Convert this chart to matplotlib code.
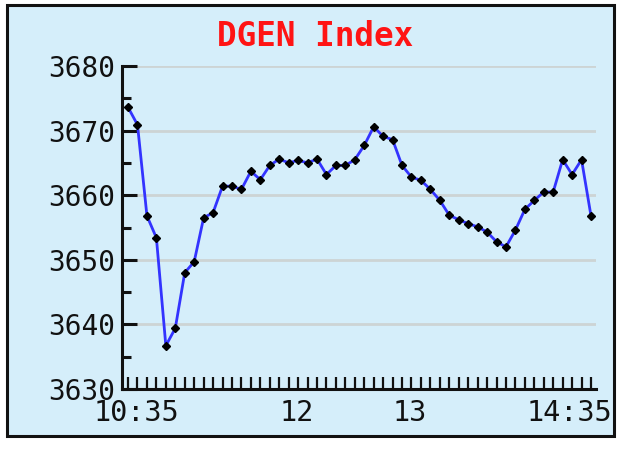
import matplotlib
matplotlib.use('Agg')
import matplotlib.pyplot as plt
from matplotlib.patches import Rectangle
from matplotlib.ticker import MultipleLocator, FixedLocator
from matplotlib.transforms import ScaledTranslation

# index values, one point every 5 minutes from 10:35
values = [3673.6, 3670.9, 3656.8, 3653.4, 3636.7, 3639.4, 3648.0, 3649.7, 3656.5, 3657.3,
          3661.4, 3661.4, 3660.9, 3663.7, 3662.4, 3664.6, 3665.6, 3665.0, 3665.4, 3665.0,
          3665.6, 3663.2, 3664.6, 3664.6, 3665.5, 3667.7, 3670.6, 3669.1, 3668.6, 3664.6,
          3662.8, 3662.3, 3660.9, 3659.2, 3656.9, 3656.2, 3655.6, 3655.1, 3654.3, 3652.8,
          3652.0, 3654.6, 3657.8, 3659.2, 3660.5, 3660.5, 3665.5, 3663.2, 3665.5, 3656.8]
start_time = "10:35"
step_min = 5
tick_times = ["10:35", "12:00", "13:00", "14:35"]
tick_labels = ["10:35", "12", "13", "14:35"]
label_shift_px = [8, 8, 8, -12]
y_range = (3630, 3680)


def minutes(t):
    h, m = t.split(':')
    return int(h) * 60 + int(m)


def to_idx(t):
    return (minutes(t) - minutes(start_time)) / step_min


plt.rcParams['font.family'] = ['DejaVu Sans Mono']

W, H = 620, 450
fig = plt.figure(figsize=(W / 100, H / 100), dpi=100)
fig.patch.set_facecolor('white')

# light blue panel with black frame (behind the axes)
fig.patches.append(Rectangle((7 / W, 14 / H), 607 / W, 431 / H, transform=fig.transFigure,
                             facecolor='#d5eefa', edgecolor='#111111', lw=2.2, zorder=-10))

ax = fig.add_axes([122 / W, (H - 389) / H, (596 - 122) / W, (389 - 66) / H])
ax.set_facecolor('none')

x = list(range(len(values)))
ax.plot(x, values, color='#3333ff', lw=2, marker='D', ms=4.5,
        mfc='black', mec='black', zorder=3)

ax.set_xlim(-0.64, len(values) - 1 + 0.53)
ax.set_ylim(*y_range)

for s in ['top', 'right']:
    ax.spines[s].set_visible(False)
for s in ['left', 'bottom']:
    ax.spines[s].set_linewidth(2.2)
    ax.spines[s].set_color('#111111')

# y axis ticks and grid
ax.yaxis.set_major_locator(MultipleLocator(10))
ax.yaxis.set_minor_locator(MultipleLocator(5))
ax.grid(axis='y', which='major', color='#cdd4d4', lw=2)
ax.set_axisbelow(True)
ax.tick_params(axis='y', which='major', direction='in', length=11, width=2.2,
               pad=5, labelsize=20, colors='#111111')
ax.tick_params(axis='y', which='minor', direction='in', length=6.5, width=2.2,
               colors='#111111')

# x axis: a tick for every point, labels at a few times
ax.xaxis.remove_overlapping_locs = False
ax.xaxis.set_minor_locator(FixedLocator(x))
ax.set_xticks([to_idx(t) for t in tick_times])
ax.set_xticklabels(tick_labels)
ax.tick_params(axis='x', which='major', length=0, pad=7, labelsize=20.5, colors='#111111')
ax.tick_params(axis='x', which='minor', direction='in', length=8.6, width=1.6,
               colors='#111111')

for lab, dx in zip(ax.get_xticklabels(), label_shift_px):
    lab.set_transform(lab.get_transform() + ScaledTranslation(dx / 100, 0, fig.dpi_scale_trans))

fig.text(315 / W, 1 - 36 / H, 'DGEN Index', color='#ff1414', fontsize=23.5,
         fontweight='bold', ha='center', va='center')

fig.savefig('out.png', dpi=100)
